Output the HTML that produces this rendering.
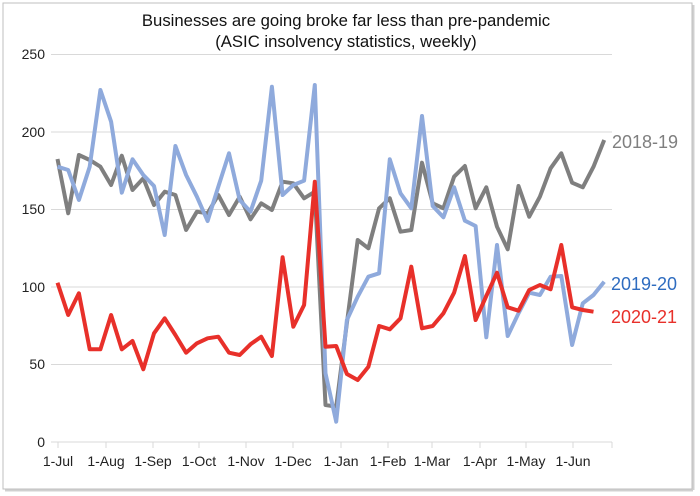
<!DOCTYPE html>
<html><head><meta charset="utf-8"><style>
body{margin:0;background:#fff;}
svg{display:block;font-family:"Liberation Sans",sans-serif;}
</style></head><body>
<svg id="s" width="700" height="496" viewBox="0 0 700 496">
<rect x="3" y="3" width="689" height="486" fill="#fff" stroke="#bfbfbf" stroke-width="1"/>
<line x1="5" y1="490.5" x2="693" y2="490.5" stroke="#d0d0d0" stroke-width="2"/>
<line x1="693.5" y1="5" x2="693.5" y2="490" stroke="#d0d0d0" stroke-width="2"/>
<g stroke="#d9d9d9" stroke-width="1">
<line x1="51" y1="54.5" x2="612" y2="54.5"/>
<line x1="51" y1="132" x2="612" y2="132"/>
<line x1="51" y1="209.5" x2="612" y2="209.5"/>
<line x1="51" y1="287" x2="612" y2="287"/>
<line x1="51" y1="364.5" x2="612" y2="364.5"/>
<line x1="51" y1="442" x2="612" y2="442"/>
</g>
<g id="ticks" stroke="#d9d9d9" stroke-width="1"></g>
<g font-size="14" fill="#222" text-anchor="end">
<text x="45" y="59">250</text><text x="45" y="137">200</text><text x="45" y="214">150</text>
<text x="45" y="292">100</text><text x="45" y="369">50</text><text x="45" y="447">0</text>
</g>
<g font-size="14" fill="#222" text-anchor="middle">
<text x="58" y="466">1-Jul</text><text x="106" y="466">1-Aug</text><text x="153" y="466">1-Sep</text>
<text x="199" y="466">1-Oct</text><text x="246" y="466">1-Nov</text><text x="293" y="466">1-Dec</text>
<text x="341" y="466">1-Jan</text><text x="388" y="466">1-Feb</text><text x="432" y="466">1-Mar</text>
<text x="480" y="466">1-Apr</text><text x="526" y="466">1-May</text><text x="573" y="466">1-Jun</text>
</g>
<g font-size="16.7" fill="#111" text-anchor="middle">
<text x="346" y="26">Businesses are going broke far less than pre-pandemic</text>
<text x="346" y="47">(ASIC insolvency statistics, weekly)</text>
</g>
<g id="lines" fill="none" stroke-width="4" stroke-linejoin="round"></g>
<g font-size="18">
<text x="612" y="148" fill="#7f7f7f">2018-19</text>
<text x="611" y="290" fill="#2e6cc0">2019-20</text>
<text x="611" y="323" fill="#e8302a">2020-21</text>
</g>
</svg>
<script>
var gray=[159,213.3,155,160,166.7,185,155.7,190,178.3,205,191.7,195,230,211.7,213.3,195,215,196.7,219.3,203.3,210,181.7,183.3,198.3,191.7,405,406.7,323,240,248.3,208.3,198.3,231.7,230,162.7,203.3,208.3,176.7,166,208.3,187.3,226.7,249.3,186,216.7,196.7,168.3,153.3,182.7,187.3,166.7,140];
var blue=[166.7,170,200,166.7,90,121.7,192.7,159.3,175,186,235,146,175,196.7,221,186.7,153.3,200,211.7,180.7,86.7,195,185,180.7,85,373.3,421.7,320,296.7,276.7,273.3,159.3,193.3,208.3,116,206,217.3,187.3,220.7,226,337.3,245,336,313.3,292.7,295,276.7,276,345,303.3,295,281.7];
var red=[282.7,315,293.3,349.3,349.3,315,349.3,341,369.3,333.3,318.3,335,352.7,343.3,338.3,336.7,352.7,355,344.3,336.7,356,257.3,326.7,305,181.7,346.7,346,374,380,366.7,326,329.3,318.3,266.7,328.3,326,313.3,292.7,256,320,296,272.7,307.3,310.7,290,285,289.3,245,307.3,310,311.7];
function pts(a){return a.map(function(y,i){return (57.5+i*10.72).toFixed(1)+","+y}).join(" ");}
var g=document.getElementById("lines"),ns="http://www.w3.org/2000/svg";
[[gray,"#7f7f7f"],[blue,"#8faadc"],[red,"#e8302a"]].forEach(function(s){
var p=document.createElementNS(ns,"polyline");p.setAttribute("points",pts(s[0]));p.setAttribute("stroke",s[1]);g.appendChild(p);});
var t=document.getElementById("ticks");
[58,106,153,199,246,293,341,388,432,480,526,573,612].forEach(function(x){
var l=document.createElementNS(ns,"line");l.setAttribute("x1",x);l.setAttribute("x2",x);l.setAttribute("y1",442);l.setAttribute("y2",448);t.appendChild(l);});
</script>
</body></html>
